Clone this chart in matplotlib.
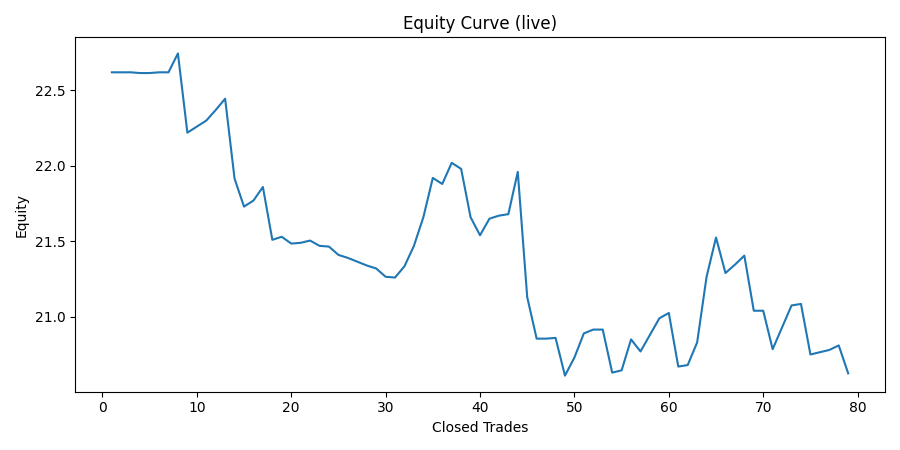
import matplotlib
matplotlib.use("Agg")
import matplotlib.pyplot as plt

trades = list(range(1, 80))
equity = [22.62, 22.62, 22.62, 22.615, 22.615, 22.62, 22.62, 22.745, 22.22, 22.26,
          22.30, 22.37, 22.445, 21.915, 21.73, 21.77, 21.86, 21.51, 21.53, 21.485,
          21.49, 21.505, 21.47, 21.465, 21.41, 21.39, 21.365, 21.34, 21.32, 21.265,
          21.26, 21.335, 21.47, 21.66, 21.92, 21.88, 22.02, 21.98, 21.66, 21.54,
          21.65, 21.67, 21.68, 21.96, 21.13, 20.855, 20.855, 20.86, 20.61, 20.73,
          20.89, 20.915, 20.915, 20.63, 20.645, 20.85, 20.77, 20.88, 20.99, 21.025,
          20.67, 20.68, 20.83, 21.265, 21.525, 21.29, 21.345, 21.405, 21.04, 21.04,
          20.785, 20.93, 21.075, 21.085, 20.75, 20.765, 20.78, 20.81, 20.625]

fig, ax = plt.subplots(figsize=(9, 4.5), dpi=100)
ax.plot(trades, equity)
ax.set_title("Equity Curve (live)")
ax.set_xlabel("Closed Trades")
ax.set_ylabel("Equity")
fig.tight_layout()
fig.savefig("out.png")
